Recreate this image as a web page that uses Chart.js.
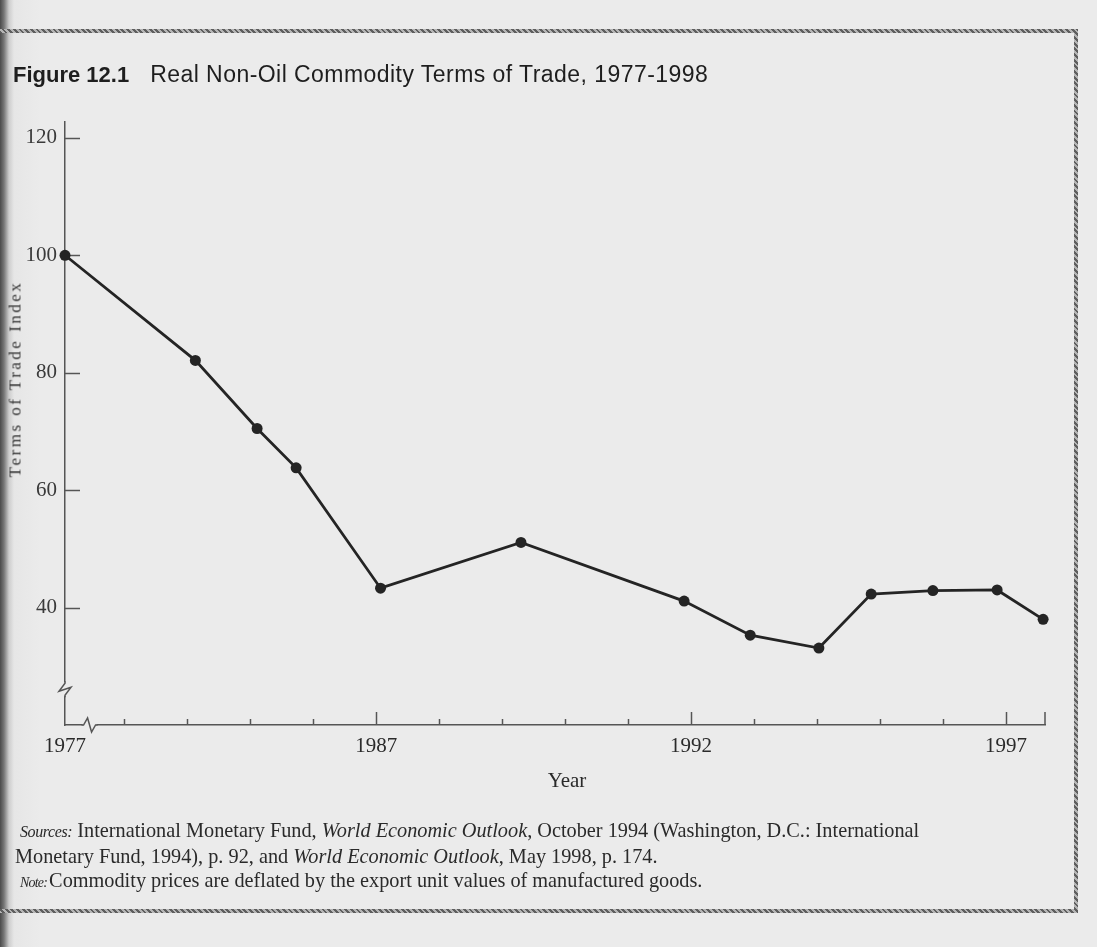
<!DOCTYPE html>
<html>
<head>
<meta charset="utf-8">
<script src="https://cdn.jsdelivr.net/npm/chart.js@4.4.0/dist/chart.umd.min.js"></script>
<style>
  html, body { margin: 0; padding: 0; }
  body {
    width: 1097px; height: 947px; overflow: hidden; position: relative;
    background: linear-gradient(to right, #4a4a4a 0, #777 4px, #cdcdcd 9px, #e6e6e6 14px, #ebebeb 40px);
    font-family: "Liberation Serif", serif; color: #2a2a2a;
  }
  .frame {
    position: absolute; left: -20px; top: 29px; width: 1090px; height: 876px;
    border: 4px solid #888;
    border-image: repeating-linear-gradient(45deg, #5e5e5e 0 2px, #b5b5b5 2px 4px) 4;
  }
  canvas { position: absolute; left: 0; top: 0; }
  .t { position: absolute; white-space: nowrap; line-height: 1; }
  .title { font-family: "Liberation Sans", Arial, sans-serif; font-size: 22px; top: 63px; left: 13px; color: #1e1e1e; }
  .title b { margin-right: 21px; }
  .title span { font-size: 23px; letter-spacing: 0.45px; }
  .ytitle { font-size: 17px; letter-spacing: 2.5px; left: 15px; top: 379px;
    transform: translate(-50%, -50%) rotate(-90deg); color: #333; }
  .xtitle { font-size: 21px; left: 567px; top: 770px; transform: translateX(-50%); }
  .foot { font-size: 20.3px; }
  .foot i.lead { font-size: 16px; letter-spacing: -0.4px; }
  .foot i.note { font-size: 14px; letter-spacing: -0.8px; margin-right: 2px; }
</style>
</head>
<body>
<div class="frame"></div>
<canvas id="chart" width="1097" height="947"></canvas>
<div class="t title"><b>Figure 12.1</b><span>Real Non-Oil Commodity Terms of Trade, 1977-1998</span></div>
<div class="t ytitle">Terms of Trade Index</div>
<div class="t xtitle">Year</div>
<div class="t foot" style="left:20px; top:820px;"><i class="lead">Sources:</i> International Monetary Fund, <i>World Economic Outlook</i>, October 1994 (Washington, D.C.: International</div>
<div class="t foot" style="left:15px; top:846px;">Monetary Fund, 1994), p. 92, and <i>World Economic Outlook</i>, May 1998, p. 174.</div>
<div class="t foot" style="left:20px; top:870px;"><i class="note">Note:</i>Commodity prices are deflated by the export unit values of manufactured goods.</div>

<script>
// years as plotted in the figure (1977 sits before the axis break)
const yearAsPlotted = [1977, 1984.13, 1985.11, 1985.73, 1987.07, 1989.3, 1991.89, 1992.94, 1994.03, 1994.86, 1995.84, 1996.86, 1997.59];
const tradeIndex = [100, 82.1, 70.5, 63.8, 43.3, 51.1, 41.1, 35.3, 33.1, 42.3, 42.9, 43.0, 38.0];

const yTickValues = [40, 60, 80, 100, 120];
const xTickYears = [1983, 1984, 1985, 1986, 1987, 1988, 1989, 1990, 1991, 1992, 1993, 1994, 1995, 1996, 1997];
const labeledYears = [1977, 1987, 1992, 1997];

// axis layout around the breaks
const POS_1977 = 1982.06;
const X_END = 1997.62;
const X_BREAK = 1982.45;
const Y_MIN = 20, Y_MAX = 122.7, Y_BREAK = 26.1;

const AXIS = '#555';
const INK = '#242424';
const BG = '#ebebeb';

function seg(ctx, pts) {
  ctx.beginPath();
  ctx.moveTo(pts[0][0], pts[0][1]);
  for (let i = 1; i < pts.length; i++) ctx.lineTo(pts[i][0], pts[i][1]);
  ctx.stroke();
}

const axisMarks = {
  id: 'axisMarks',
  beforeDatasetsDraw(chart) {
    const { ctx, scales: { x, y } } = chart;
    const left = x.left, right = x.right, bottom = y.bottom;
    ctx.save();
    ctx.strokeStyle = AXIS;
    ctx.lineWidth = 1.5;

    // y ticks point into the plot
    yTickValues.forEach(v => {
      const py = Math.round(y.getPixelForValue(v)) + 0.5;
      seg(ctx, [[left, py], [left + 15, py]]);
    });

    // x ticks point upward, longer at labelled years
    xTickYears.forEach(yr => {
      const px = Math.round(x.getPixelForValue(yr)) + 0.5;
      const h = labeledYears.includes(yr) ? 13 : 6;
      seg(ctx, [[px, bottom], [px, bottom - h]]);
    });
    seg(ctx, [[right, bottom], [right, bottom - 13]]);

    // break on the y axis
    const by = y.getPixelForValue(Y_BREAK);
    ctx.fillStyle = BG;
    ctx.fillRect(left - 3, by - 7, 6, 14);
    seg(ctx, [[left, by - 8], [left, by - 6], [left - 6, by + 2], [left + 6, by - 2], [left, by + 6], [left, by + 8]]);

    // break on the x axis
    const bx = x.getPixelForValue(X_BREAK);
    ctx.fillRect(bx - 7, bottom - 3, 14, 6);
    seg(ctx, [[bx - 8, bottom], [bx - 6, bottom], [bx - 2, bottom - 7], [bx + 2, bottom + 7], [bx + 6, bottom], [bx + 8, bottom]]);
    ctx.restore();
  }
};

new Chart(document.getElementById('chart'), {
  type: 'line',
  data: {
    datasets: [{
      data: yearAsPlotted.map((yr, i) => ({ x: yr === 1977 ? POS_1977 : yr, y: tradeIndex[i] })),
      borderColor: INK,
      borderWidth: 2.8,
      pointRadius: 5.5,
      pointBackgroundColor: INK,
      pointBorderColor: INK,
      pointBorderWidth: 0,
      tension: 0,
      clip: false
    }]
  },
  options: {
    responsive: false,
    devicePixelRatio: 1,
    animation: false,
    events: [],
    layout: { padding: { top: 122, right: 52, left: 0, bottom: 0 } },
    plugins: { legend: { display: false }, tooltip: { enabled: false } },
    scales: {
      x: {
        type: 'linear',
        min: POS_1977,
        max: X_END,
        afterFit: s => { s.height = 222; },
        afterBuildTicks: s => {
          s.ticks = [POS_1977].concat(xTickYears).map(v => ({ value: v }));
        },
        grid: { display: false, drawTicks: false },
        border: { display: true, color: AXIS, width: 1.5 },
        ticks: {
          autoSkip: false,
          maxRotation: 0,
          padding: 9,
          color: '#2a2a2a',
          font: { family: 'Liberation Serif', size: 21 },
          callback: v => v === POS_1977 ? '1977' : (labeledYears.includes(v) ? String(v) : '')
        }
      },
      y: {
        min: Y_MIN,
        max: Y_MAX,
        afterFit: s => { s.width = 65; },
        afterBuildTicks: s => { s.ticks = yTickValues.map(v => ({ value: v })); },
        grid: { display: false, drawTicks: false },
        border: { display: true, color: AXIS, width: 1.5 },
        ticks: {
          padding: 8,
          color: '#3a3a3a',
          font: { family: 'Liberation Serif', size: 21 }
        }
      }
    }
  },
  plugins: [axisMarks]
});
</script>
</body>
</html>
